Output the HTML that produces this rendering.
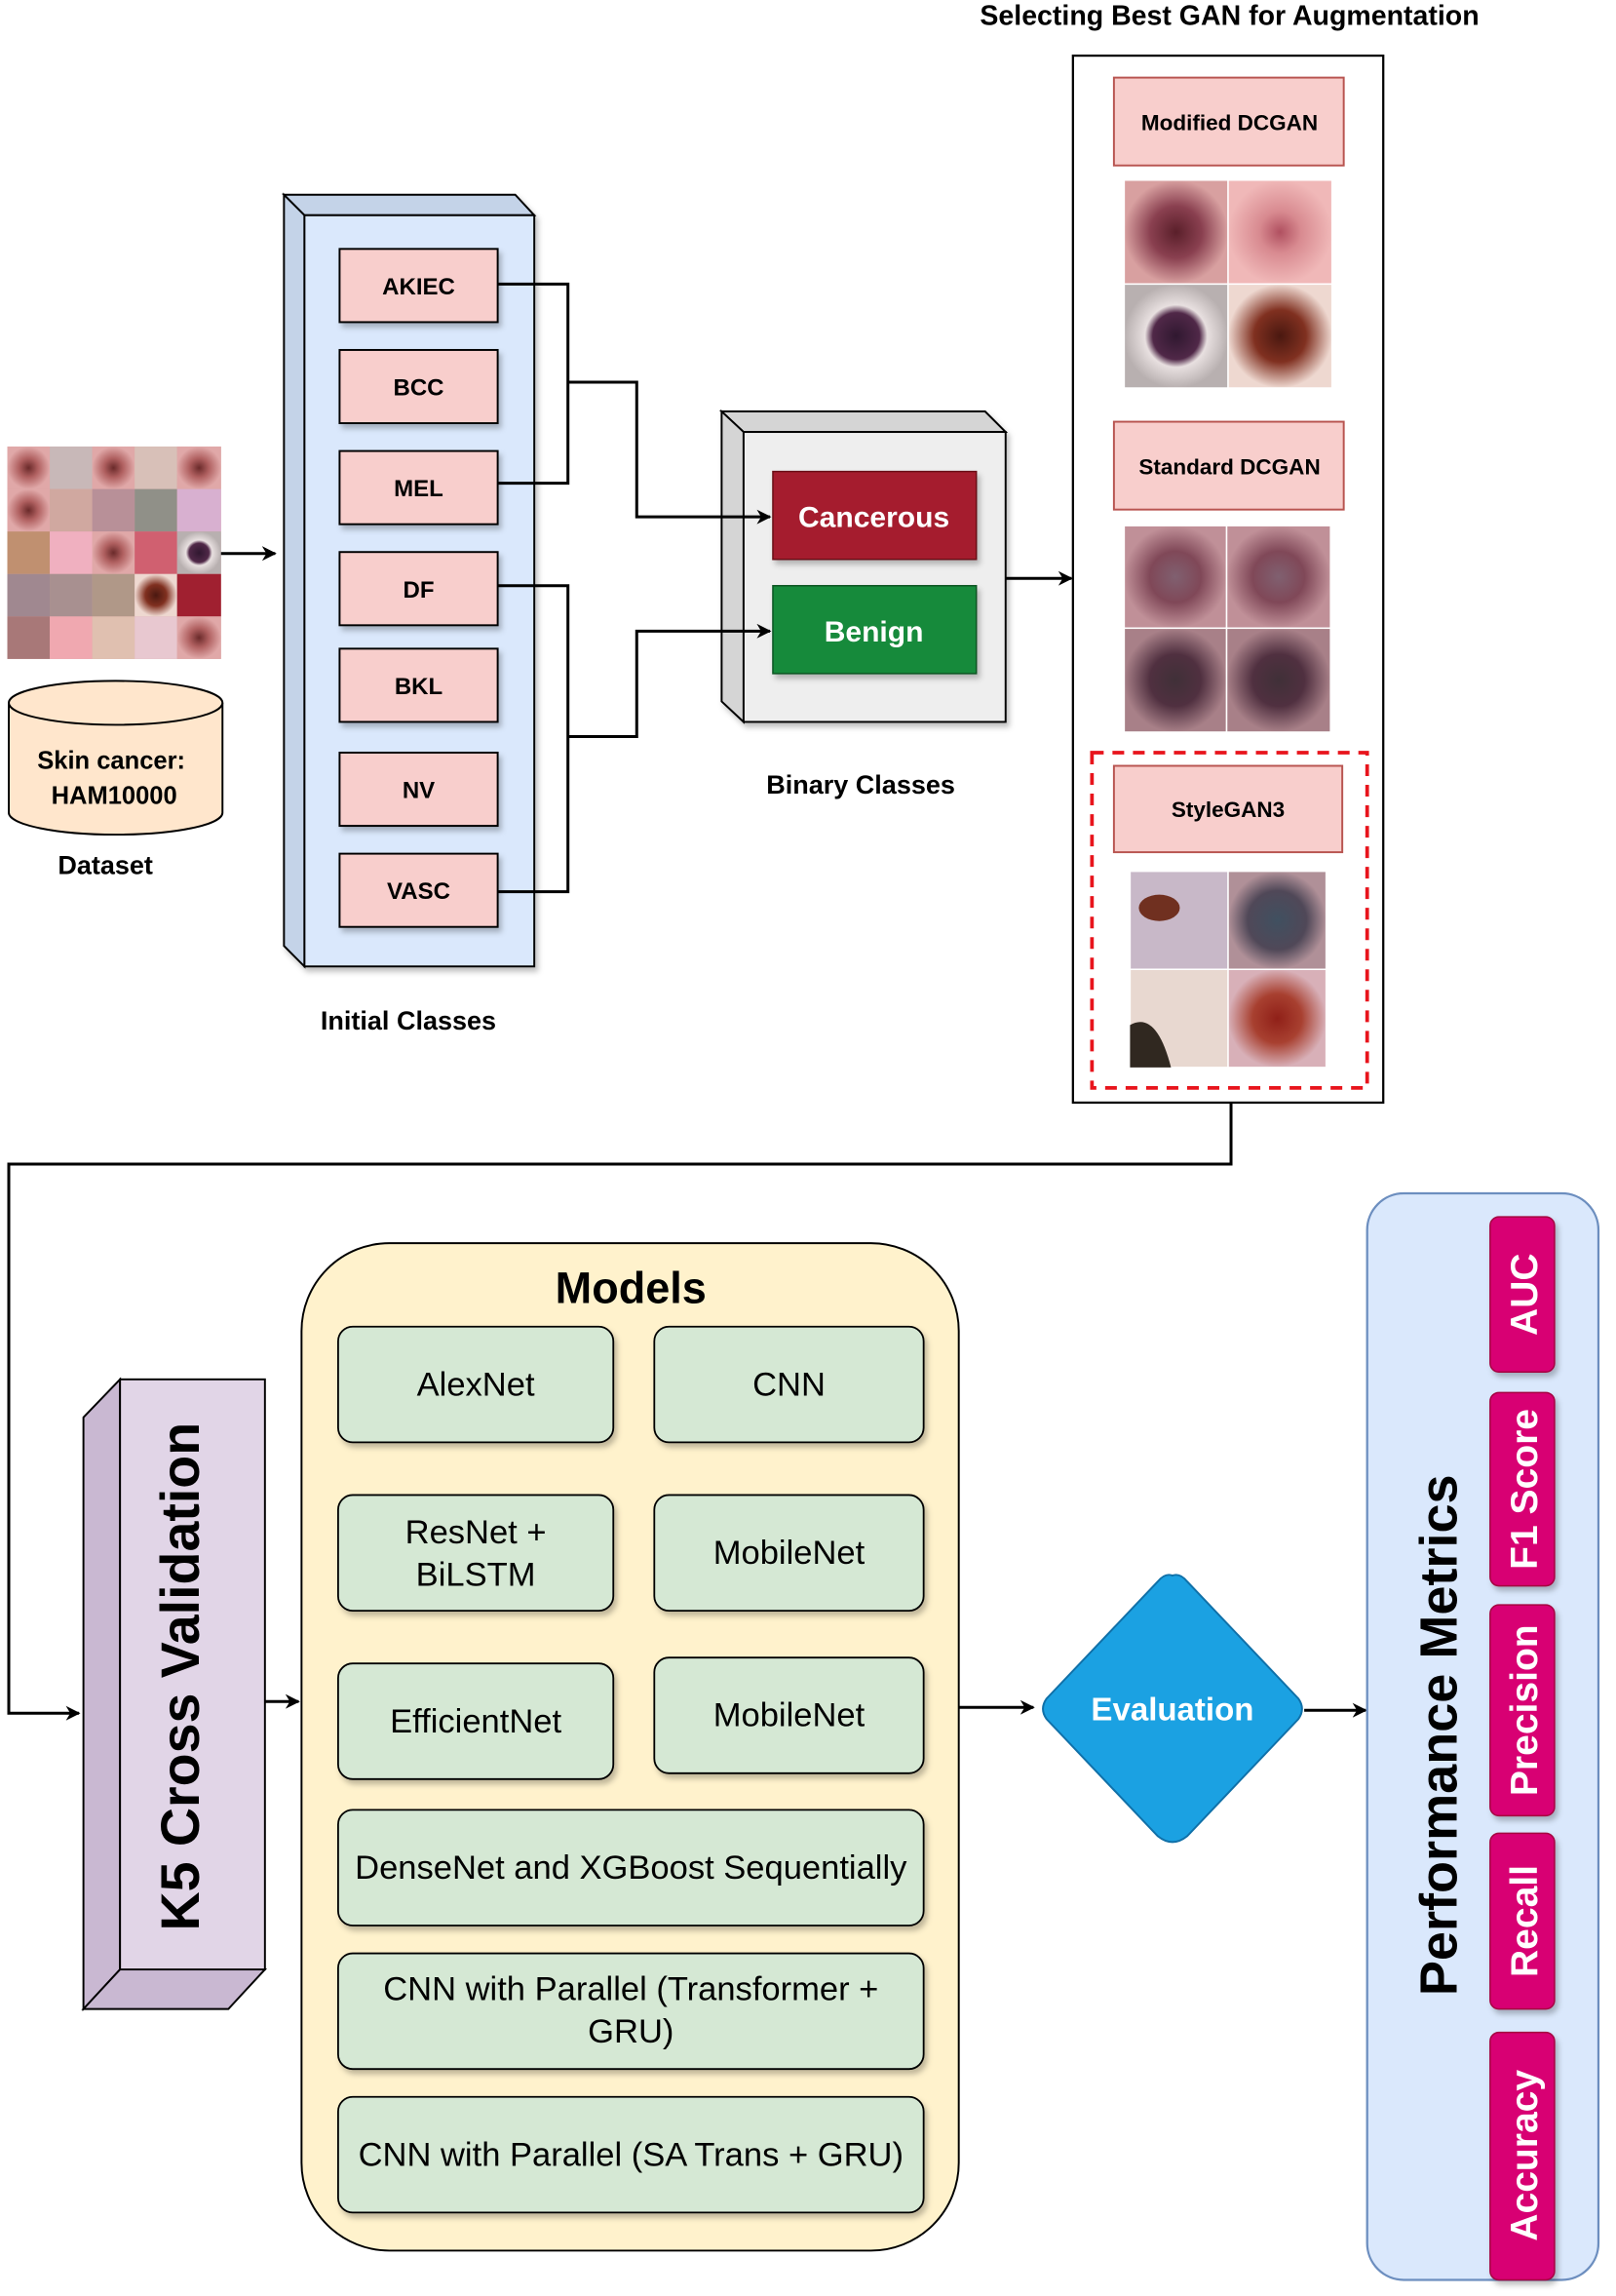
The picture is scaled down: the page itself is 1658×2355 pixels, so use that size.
<!DOCTYPE html>
<html><head><meta charset="utf-8"><style>html,body{margin:0;padding:0;background:#fff}svg{display:block}</style></head>
<body>
<svg xmlns="http://www.w3.org/2000/svg" width="1658" height="2355" viewBox="0 0 1104 1568" preserveAspectRatio="none" font-family="Liberation Sans, sans-serif">
<defs>
<marker id="a" markerWidth="10" markerHeight="10" refX="9" refY="5" orient="auto" markerUnits="userSpaceOnUse"><path d="M0,0 L10,5 L0,10 L3,5z" fill="#000"/></marker>
<radialGradient id="l1"><stop offset="0" stop-color="#5a1f2a"/><stop offset="0.5" stop-color="#8a4050"/><stop offset="1" stop-color="#d8a0a0"/></radialGradient>
<radialGradient id="l2"><stop offset="0" stop-color="#b05060"/><stop offset="0.4" stop-color="#d88a90"/><stop offset="1" stop-color="#f0b8b8"/></radialGradient>
<radialGradient id="l3"><stop offset="0" stop-color="#301830"/><stop offset="0.45" stop-color="#502848"/><stop offset="0.6" stop-color="#e8e0e0"/><stop offset="1" stop-color="#b8b0b0"/></radialGradient>
<radialGradient id="l4"><stop offset="0" stop-color="#4a1810"/><stop offset="0.5" stop-color="#803020"/><stop offset="1" stop-color="#eed8d0"/></radialGradient>
<radialGradient id="s1"><stop offset="0" stop-color="#806070"/><stop offset="0.5" stop-color="#804858"/><stop offset="1" stop-color="#c09098"/></radialGradient>
<radialGradient id="s2"><stop offset="0" stop-color="#403038"/><stop offset="0.5" stop-color="#503040"/><stop offset="1" stop-color="#a88088"/></radialGradient>
<radialGradient id="g1"><stop offset="0" stop-color="#405060"/><stop offset="0.6" stop-color="#504858"/><stop offset="1" stop-color="#b09098"/></radialGradient>
<radialGradient id="g2"><stop offset="0" stop-color="#902018"/><stop offset="0.5" stop-color="#a84030"/><stop offset="1" stop-color="#d8b0b8"/></radialGradient>
<radialGradient id="d"><stop offset="0" stop-color="#6a2a2a"/><stop offset="0.45" stop-color="#b06060"/><stop offset="1" stop-color="#e0a8a8"/></radialGradient>
<filter id="sh" x="-10%" y="-10%" width="130%" height="130%"><feDropShadow dx="2" dy="3" stdDeviation="2" flood-opacity="0.25"/></filter>
</defs>

<text x="840" y="17" text-anchor="middle" font-size="19" font-weight="bold">Selecting Best GAN for Augmentation</text>

<g>
<rect x="5" y="305" width="146" height="145" fill="#d8a0a0"/>
<g fill="url(#d)">
<rect x="5" y="305" width="29" height="29"/><rect x="34" y="305" width="29" height="29" fill="#c8b8b8"/><rect x="63" y="305" width="29" height="29"/><rect x="92" y="305" width="29" height="29" fill="#d8c0b8"/><rect x="121" y="305" width="30" height="29"/>
<rect x="5" y="334" width="29" height="29"/><rect x="34" y="334" width="29" height="29" fill="#d0a8a0"/><rect x="63" y="334" width="29" height="29" fill="#b89098"/><rect x="92" y="334" width="29" height="29" fill="#909088"/><rect x="121" y="334" width="30" height="29" fill="#d8b0d0"/>
<rect x="5" y="363" width="29" height="29" fill="#c09070"/><rect x="34" y="363" width="29" height="29" fill="#f0b0c0"/><rect x="63" y="363" width="29" height="29"/><rect x="92" y="363" width="29" height="29" fill="#d06070"/><rect x="121" y="363" width="30" height="29" fill="url(#l3)"/>
<rect x="5" y="392" width="29" height="29" fill="#a08890"/><rect x="34" y="392" width="29" height="29" fill="#a89090"/><rect x="63" y="392" width="29" height="29" fill="#b09888"/><rect x="92" y="392" width="29" height="29" fill="url(#l4)"/><rect x="121" y="392" width="30" height="29" fill="#a02030"/>
<rect x="5" y="421" width="29" height="29" fill="#a87878"/><rect x="34" y="421" width="29" height="29" fill="#f0a8b0"/><rect x="63" y="421" width="29" height="29" fill="#e0c0b0"/><rect x="92" y="421" width="29" height="29" fill="#e8c8d0"/><rect x="121" y="421" width="30" height="29"/>
</g>
</g>
<line x1="151" y1="378" x2="188" y2="378" stroke="#000" stroke-width="2" marker-end="url(#a)"/>

<path d="M6,480 L6,555 A73,15 0 0 0 152,555 L152,480" fill="#ffe6cc" stroke="#000" stroke-width="1.3"/>
<ellipse cx="79" cy="480" rx="73" ry="15" fill="#ffe6cc" stroke="#000" stroke-width="1.3"/>
<text x="76" y="525" text-anchor="middle" font-size="17" font-weight="bold">Skin cancer:</text>
<text x="78" y="549" text-anchor="middle" font-size="17" font-weight="bold">HAM10000</text>
<text x="72" y="597" text-anchor="middle" font-size="18" font-weight="bold">Dataset</text>

<g stroke="#000" stroke-width="1.3" filter="url(#sh)">
<polygon points="194,133 352,133 365,147 208,147" fill="#c4d3e8"/>
<polygon points="194,133 208,147 208,660 194,646" fill="#c4d3e8"/>
<rect x="208" y="147" width="157" height="513" fill="#dae8fc"/>
</g>
<g fill="#f8cecc" stroke="#000" stroke-width="1.3" filter="url(#sh)">
<rect x="232" y="170" width="108" height="50"/><rect x="232" y="239" width="108" height="50"/><rect x="232" y="308" width="108" height="50"/><rect x="232" y="377" width="108" height="50"/><rect x="232" y="443" width="108" height="50"/><rect x="232" y="514" width="108" height="50"/><rect x="232" y="583" width="108" height="50"/>
</g>
<g font-size="16" font-weight="bold" text-anchor="middle">
<text x="286" y="201">AKIEC</text><text x="286" y="270">BCC</text><text x="286" y="339">MEL</text><text x="286" y="408">DF</text><text x="286" y="474">BKL</text><text x="286" y="545">NV</text><text x="286" y="614">VASC</text>
</g>
<text x="279" y="703" text-anchor="middle" font-size="18" font-weight="bold">Initial Classes</text>

<g stroke="#000" stroke-width="1.3" filter="url(#sh)">
<polygon points="493,281 673,281 687,295 508,295" fill="#d5d5d5"/>
<polygon points="493,281 508,295 508,493 493,479" fill="#d5d5d5"/>
<rect x="508" y="295" width="179" height="198" fill="#eeeeee"/>
</g>
<rect x="528" y="322" width="139" height="60" fill="#a51d2d" stroke="#6b0f18" filter="url(#sh)"/>
<rect x="528" y="400" width="139" height="60" fill="#148a3b" stroke="#0a5522" filter="url(#sh)"/>
<text x="597" y="360" text-anchor="middle" font-size="20" font-weight="bold" fill="#fff">Cancerous</text>
<text x="597" y="438" text-anchor="middle" font-size="20" font-weight="bold" fill="#fff">Benign</text>
<text x="588" y="542" text-anchor="middle" font-size="18" font-weight="bold">Binary Classes</text>
<line x1="687" y1="395" x2="732" y2="395" stroke="#000" stroke-width="2" marker-end="url(#a)"/>

<g fill="none" stroke="#000" stroke-width="2">
<polyline points="340,194 388,194 388,330 340,330"/>
<polyline points="388,261 435,261 435,353 526,353" marker-end="url(#a)"/>
<polyline points="340,400 388,400 388,609 340,609"/>
<polyline points="388,503 435,503 435,431 526,431" marker-end="url(#a)"/>
</g>

<rect x="733" y="38" width="212" height="715" fill="#fff" stroke="#000" stroke-width="1.5"/>
<g fill="#f8cecc" stroke="#b85450" stroke-width="1.3">
<rect x="761" y="53" width="157" height="60"/><rect x="761" y="288" width="157" height="60"/><rect x="761" y="523" width="156" height="59"/>
</g>
<g font-size="15" font-weight="bold" text-anchor="middle">
<text x="840" y="89">Modified DCGAN</text><text x="840" y="324">Standard DCGAN</text><text x="839" y="558">StyleGAN3</text>
</g>
<g stroke="#fff" stroke-width="1">
<rect x="768" y="123" width="71" height="71" fill="url(#l1)"/><rect x="839" y="123" width="71" height="71" fill="url(#l2)"/>
<rect x="768" y="194" width="71" height="71" fill="url(#l3)"/><rect x="839" y="194" width="71" height="71" fill="url(#l4)"/>
<rect x="768" y="359" width="70" height="70" fill="url(#s1)"/><rect x="838" y="359" width="71" height="70" fill="url(#s1)"/>
<rect x="768" y="429" width="70" height="71" fill="url(#s2)"/><rect x="838" y="429" width="71" height="71" fill="url(#s2)"/>
<rect x="772" y="595" width="67" height="67" fill="#c8b8c8"/><rect x="839" y="595" width="67" height="67" fill="url(#g1)"/>
<rect x="772" y="662" width="67" height="67" fill="#e8d8d0"/><rect x="839" y="662" width="67" height="67" fill="url(#g2)"/>
</g>
<ellipse cx="792" cy="620" rx="14" ry="9" fill="#703020"/>
<path d="M772,700 Q790,690 800,729 L772,729z" fill="#302820"/>
<rect x="746" y="514" width="188" height="229" fill="none" stroke="#e8141c" stroke-width="2.5" stroke-dasharray="8,6"/>

<polyline points="841,753 841,795 6,795 6,1170 54,1170" fill="none" stroke="#000" stroke-width="2" marker-end="url(#a)"/>

<g stroke="#000" stroke-width="1.3">
<polygon points="57,968 82,942 82,1345 57,1372" fill="#c9b8d2"/>
<polygon points="57,1372 82,1345 181,1345 156,1372" fill="#c9b8d2"/>
<rect x="82" y="942" width="99" height="403" fill="#e1d5e7"/>
</g>
<text transform="translate(136,1145) rotate(-90)" text-anchor="middle" font-size="37" font-weight="bold">K5 Cross Validation</text>
<line x1="181" y1="1162" x2="204" y2="1162" stroke="#000" stroke-width="2" marker-end="url(#a)"/>

<rect x="206" y="849" width="449" height="688" rx="60" fill="#fff2cc" stroke="#000" stroke-width="1.3"/>
<text x="431" y="890" text-anchor="middle" font-size="30" font-weight="bold">Models</text>
<g fill="#d5e8d4" stroke="#000" stroke-width="1.2" filter="url(#sh)">
<rect x="231" y="906" width="188" height="79" rx="10"/><rect x="447" y="906" width="184" height="79" rx="10"/>
<rect x="231" y="1021" width="188" height="79" rx="10"/><rect x="447" y="1021" width="184" height="79" rx="10"/>
<rect x="231" y="1136" width="188" height="79" rx="10"/><rect x="447" y="1132" width="184" height="79" rx="10"/>
<rect x="231" y="1236" width="400" height="79" rx="10"/>
<rect x="231" y="1334" width="400" height="79" rx="10"/>
<rect x="231" y="1432" width="400" height="79" rx="10"/>
</g>
<g font-size="23" text-anchor="middle">
<text x="325" y="953">AlexNet</text><text x="539" y="953">CNN</text>
<text x="325" y="1054">ResNet +</text><text x="325" y="1083">BiLSTM</text><text x="539" y="1068">MobileNet</text>
<text x="325" y="1183">EfficientNet</text><text x="539" y="1179">MobileNet</text>
<text x="431" y="1283">DenseNet and XGBoost Sequentially</text>
<text x="431" y="1366">CNN with Parallel (Transformer +</text><text x="431" y="1395">GRU)</text>
<text x="431" y="1479">CNN with Parallel (SA Trans + GRU)</text>
</g>
<line x1="655" y1="1166" x2="706" y2="1166" stroke="#000" stroke-width="2" marker-end="url(#a)"/>

<path d="M801,1076 Q806,1074 811,1080 L887,1160 Q892,1167 887,1174 L811,1254 Q801,1262 791,1254 L715,1174 Q710,1167 715,1160 L791,1080 Q796,1074 801,1076z" fill="#1ba1e2" stroke="#1070a8" stroke-width="1.3"/>
<text x="801" y="1175" text-anchor="middle" font-size="22" font-weight="bold" fill="#fff">Evaluation</text>
<line x1="891" y1="1168" x2="933" y2="1168" stroke="#000" stroke-width="2" marker-end="url(#a)"/>

<rect x="934" y="815" width="158" height="742" rx="25" fill="#dae8fc" stroke="#6c8ebf" stroke-width="1.5"/>
<text transform="translate(995,1185) rotate(-90)" text-anchor="middle" font-size="36" font-weight="bold">Performance Metrics</text>
<g fill="#d80073" stroke="#a50040" stroke-width="1" filter="url(#sh)">
<rect x="1018" y="831" width="44" height="106" rx="6"/><rect x="1018" y="951" width="44" height="132" rx="6"/>
<rect x="1018" y="1096" width="44" height="144" rx="6"/><rect x="1018" y="1252" width="44" height="120" rx="6"/>
<rect x="1018" y="1388" width="44" height="169" rx="6"/>
</g>
<g font-size="26" font-weight="bold" fill="#fff" text-anchor="middle">
<text transform="translate(1050,884) rotate(-90)">AUC</text>
<text transform="translate(1050,1017) rotate(-90)">F1 Score</text>
<text transform="translate(1050,1168) rotate(-90)">Precision</text>
<text transform="translate(1050,1312) rotate(-90)">Recall</text>
<text transform="translate(1050,1472) rotate(-90)">Accuracy</text>
</g>
</svg>
</body></html>
